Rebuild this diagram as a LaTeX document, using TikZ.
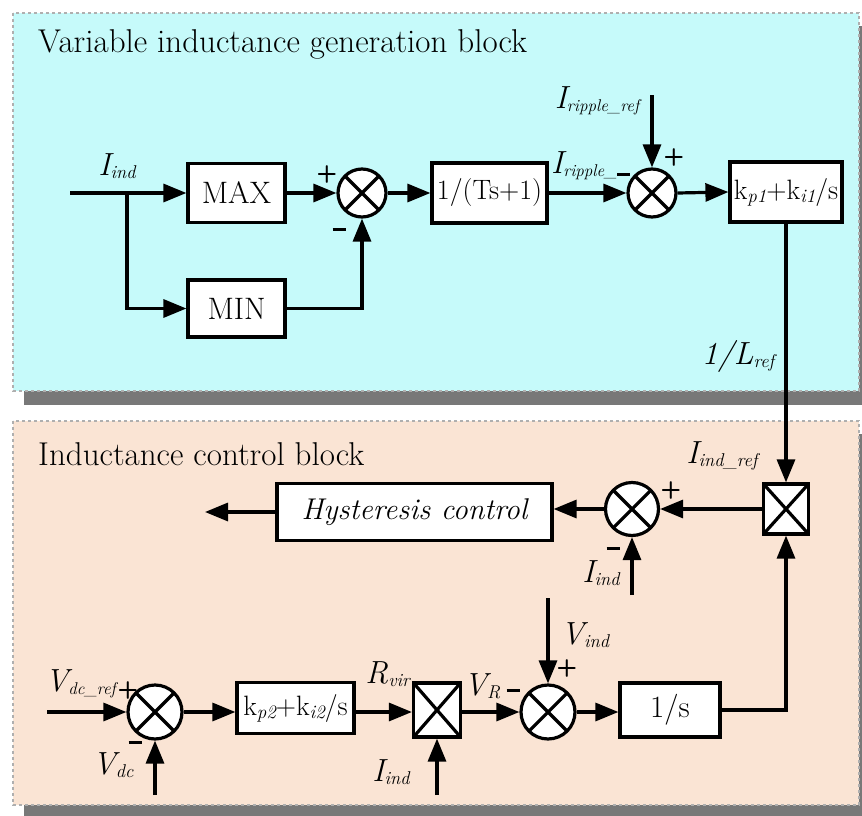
\documentclass[tikz,border=0pt]{standalone}
\usetikzlibrary{arrows.meta,calc}
\definecolor{cyanbg}{RGB}{198,250,250}
\definecolor{peachbg}{RGB}{250,228,212}
\definecolor{bordergray}{RGB}{175,175,175}
\definecolor{shadowgray}{RGB}{120,120,120}
\newcommand{\ttlfont}{\fontsize{33}{38}\selectfont}
\newcommand{\bigfont}{\fontsize{31}{36}\selectfont}
\newcommand{\midfont}{\fontsize{28}{32}\selectfont}
\newcommand{\sgnfont}{\fontsize{24}{26}\selectfont\sffamily\bfseries}
\newcommand{\lab}[2]{{\fontsize{32}{36}\selectfont\itshape #1}\raisebox{-3pt}{\fontsize{18.5}{21}\selectfont\itshape #2}}
\newcommand{\labsm}[2]{{\fontsize{32}{36}\selectfont\itshape #1}\raisebox{-3pt}{\fontsize{17}{20}\selectfont\itshape #2}}
\newcommand{\ksub}[1]{\raisebox{-3pt}{\fontsize{19}{21}\selectfont\itshape #1}}
\newcommand{\mns}{\rule{13pt}{3pt}}
\tikzset{
  lw/.style={line width=3.2pt},
  arr/.style={lw,-{Triangle[length=23pt,width=18pt]}},
  blk/.style={draw,lw,fill=white,inner sep=0pt,font=\bigfont},
  xdiag/.style={path picture={\draw[lw] (path picture bounding box.north west) -- (path picture bounding box.south east)
      (path picture bounding box.north east) -- (path picture bounding box.south west);}},
  sumc/.style={circle,draw,lw,fill=white,minimum size=48pt,inner sep=0pt,xdiag},
  mulbox/.style={draw,lw,fill=white,inner sep=0pt,xdiag},
  lbl/.style={inner sep=0pt},
  sgn/.style={font=\sgnfont,inner sep=0pt},
  panel/.style={draw=bordergray,dashed,line width=1.2pt},
  ttl/.style={font=\ttlfont,anchor=base west,inner sep=0pt},
}
\begin{document}
\begin{tikzpicture}[x=1pt,y=-1pt]
\useasboundingbox (0,0) rectangle (862,816);
% panels
\fill[shadowgray] (24,26) rectangle (872,405);
\draw[panel,fill=cyanbg] (13,13) rectangle (859,391);
\fill[shadowgray] (24,434) rectangle (872,817);
\draw[panel,fill=peachbg] (13,421) rectangle (859,805);
\node[ttl] (t1) at (38,53) {Variable inductance generation block};
\node[ttl] (t2) at (38,465) {Inductance control block};

% top row
\coordinate (iin) at (70,193);
\coordinate (br) at (127,193);
\node[blk,minimum width=97pt,minimum height=59pt] (max) at (236.5,193) {MAX};
\node[blk,minimum width=97pt,minimum height=57pt] (min) at (236.5,308.5) {MIN};
\node[sumc] (s1) at (362,193) {};
\node[blk,minimum width=115pt,minimum height=60pt,font=\midfont] (lp) at (489.5,193) {1/(Ts+1)};
\node[sumc] (s2) at (652,193) {};
\node[blk,minimum width=112pt,minimum height=60pt,font=\midfont] (pi1) at (786,192) {k\ksub{p1}+k\ksub{i1}/s};
\coordinate (rref) at (652,95);

\draw[arr] (iin) -- (max.west);
\draw[arr] (br) |- (min.west);
\draw[arr] (max.east) -- (s1.west);
\draw[arr] (min.east) -| (s1.south);
\draw[arr] (s1.east) -- (lp.west);
\draw[arr] (lp.east) -- (s2.west);
\draw[arr] (rref) -- (s2.north);
\draw[arr] (s2.east) -- (pi1.west);

\node[lbl] (l1) at (117,166) {\lab{I}{ind}};
\node[sgn] (p1) at (327,174) {+};
\node[sgn] (m1s) at (339,229) {\mns};
\node[lbl,anchor=west] (l2) at (551,166) {\labsm{I}{ripple\_}};
\node[sgn,anchor=west] (m2s) at ([xshift=0pt,yshift=-8pt]l2.east) {\mns};
\node[lbl] (l3) at (597,101) {\labsm{I}{ripple\_ref}};
\node[sgn] (p2) at (674,157) {+};
\node[lbl] (l4) at (738,356) {\lab{1/L}{ref}};

% bottom upper row
\node[mulbox,minimum width=45pt,minimum height=50pt] (m1) at (786,509) {};
\node[sumc,minimum size=53pt] (s3) at (632,509) {};
\node[blk,minimum width=275pt,minimum height=57pt,font=\fontsize{30}{34}\selectfont\itshape] (hys) at (414.5,512) {Hysteresis control};
\coordinate (out) at (205,512);
\coordinate (iind3) at (632,595);
\draw[arr] (pi1.south) -- (m1.north);
\draw[arr] (m1.west) -- (s3.east);
\draw[arr] (s3.west) -- (hys.east |- s3.west);
\draw[arr] (hys.west) -- (out);
\draw[arr] (iind3) -- (s3.south);
\node[lbl] (l5) at (722,456) {\lab{I}{ind\_ref}};
\node[sgn] (p3) at (671,490) {+};
\node[sgn] (m3s) at (613,548) {\mns};
\node[lbl] (l6) at (601,573) {\lab{I}{ind}};

% bottom lower row
\coordinate (vin) at (47,712);
\coordinate (vdc) at (155,795);
\node[sumc,minimum size=54pt] (s4) at (155,712) {};
\node[blk,minimum width=117pt,minimum height=51pt,font=\midfont] (pi2) at (295.5,708) {k\ksub{p2}+k\ksub{i2}/s};
\node[mulbox,minimum width=47pt,minimum height=54pt] (m2) at (437,710) {};
\coordinate (iind2) at (437,795);
\node[sumc,minimum size=54pt] (s5) at (548,712) {};
\coordinate (vind) at (548,598);
\node[blk,minimum width=100pt,minimum height=54pt] (integ) at (670,710) {1/s};

\draw[arr] (vin) -- (s4.west);
\draw[arr] (vdc) -- (s4.south);
\draw[arr] (s4.east) -- (pi2.west |- s4.east);
\draw[arr] (pi2.east |- s4.east) -- (m2.west |- s4.east);
\draw[arr] (iind2) -- (m2.south);
\draw[arr] (m2.east |- s5.west) -- (s5.west);
\draw[arr] (vind) -- (s5.north);
\draw[arr] (s5.east) -- (integ.west |- s5.east);
\draw[arr] (integ.east) -| (m1.south);

\node[lbl,anchor=east] (l7) at (116,684) {\labsm{V}{dc\_ref}};
\node[sgn] (p4) at (128,690) {+};
\node[sgn] (m4s) at (135,742) {\mns};
\node[lbl] (l8) at (113,765) {\lab{V}{dc}};
\node[lbl,anchor=east] (l9) at (410,674) {\lab{R}{vir}};
\node[lbl] (l10) at (391,772) {\lab{I}{ind}};
\node[lbl] (l11) at (482,686) {\lab{V}{R}};
\node[sgn] (m5s) at (513,690) {\mns};
\node[lbl] (l12) at (585,635) {\lab{V}{ind}};
\node[sgn] (p5) at (567,668) {+};
\end{tikzpicture}
\end{document}
